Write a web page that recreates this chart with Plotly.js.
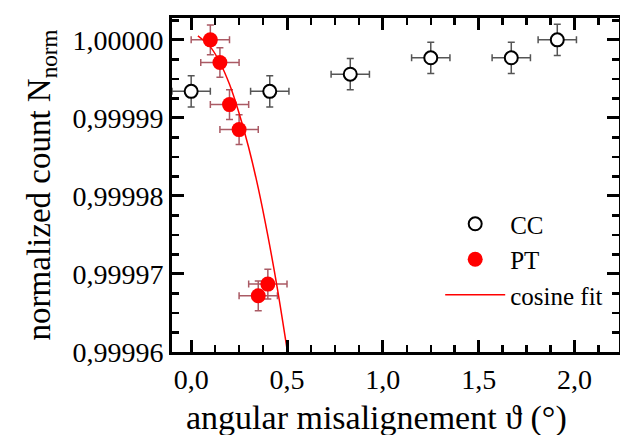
<!DOCTYPE html>
<html>
<head>
<meta charset="utf-8">
<script src="https://cdn.plot.ly/plotly-3.0.1.min.js"></script>
<style>html,body{margin:0;padding:0;background:#fff;}#chart{width:620px;height:435px;}</style>
</head>
<body>
<div id="chart"></div>
<script>
// CC data (open circles)
const ccX = [0.0, 0.41, 0.83, 1.25, 1.67, 1.91];
const ccY = [0.9999934, 0.9999934, 0.9999956, 0.9999977, 0.9999977, 1.0000000];
const ccXErr = [0.1, 0.1, 0.1, 0.1, 0.1, 0.1];
const ccYErr = [0.000002, 0.000002, 0.000002, 0.000002, 0.000002, 0.000002];

// PT data (red filled circles)
const ptX = [0.10, 0.15, 0.20, 0.25, 0.40, 0.35];
const ptY = [1.0000000, 0.9999971, 0.9999917, 0.9999885, 0.9999687, 0.9999672];
const ptXErr = [0.1, 0.1, 0.1, 0.1, 0.1, 0.1];
const ptYErr = [0.0000019, 0.0000019, 0.0000019, 0.0000019, 0.0000019, 0.0000019];

// cosine fit curve
const fitX = [0.035, 0.10, 0.15, 0.20, 0.25, 0.30, 0.35, 0.40, 0.45, 0.50];
const fitY = [1.0000005, 0.9999991, 0.9999971, 0.9999943, 0.9999906, 0.9999862, 0.9999810, 0.9999749, 0.9999681, 0.9999604];

// tick values and labels
const xTickVals = [0.0, 0.5, 1.0, 1.5, 2.0];
const xTickText = ['0,0', '0,5', '1,0', '1,5', '2,0'];
const yTickVals = [0.99996, 0.99997, 0.99998, 0.99999, 1.00000];
const yTickText = ['0,99996', '0,99997', '0,99998', '0,99999', '1,00000'];

// labels
const legendNames = ['CC', 'PT', 'cosine fit'];
const xTitle = 'angular misalignement \u03d1 (\u00b0)';
const yTitle = 'normalized count N<sub>norm</sub>';

const FONT = 'Liberation Serif';

const traces = [
  {
    x: ccX, y: ccY, type: 'scatter', mode: 'markers', name: legendNames[0],
    marker: {symbol: 'circle', size: 13, color: '#ffffff', line: {color: '#000000', width: 2}},
    error_x: {type: 'data', array: ccXErr, visible: true, color: '#555555', thickness: 1.5, width: 3.5},
    error_y: {type: 'data', array: ccYErr, visible: true, color: '#555555', thickness: 1.5, width: 3.5}
  },
  {
    x: ptX, y: ptY, type: 'scatter', mode: 'markers', name: legendNames[1],
    marker: {symbol: 'circle', size: 15, color: '#ff0000', line: {width: 0}},
    error_x: {type: 'data', array: ptXErr, visible: true, color: 'rgb(170,90,100)', thickness: 1.5, width: 3.5},
    error_y: {type: 'data', array: ptYErr, visible: true, color: 'rgb(170,90,100)', thickness: 1.5, width: 3.5}
  },
  {
    x: fitX, y: fitY, type: 'scatter', mode: 'lines', name: legendNames[2],
    line: {color: '#ff0000', width: 1.5, shape: 'spline'}
  }
];

const layout = {
  width: 620, height: 435,
  margin: {l: 172, r: 1, t: 18, b: 83},
  showlegend: true,
  legend: {
    x: 0.6, y: 0.452, xanchor: 'left', yanchor: 'top',
    bgcolor: 'rgba(0,0,0,0)', borderwidth: 0,
    font: {family: FONT, size: 25, color: '#000000'},
    itemwidth: 60, tracegroupgap: 0
  },
  xaxis: {
    range: [-0.1, 2.232],
    tickmode: 'array', tickvals: xTickVals, ticktext: xTickText,
    ticks: 'inside', ticklen: 12, tickwidth: 3, tickcolor: '#000000',
    minor: {ticks: 'inside', ticklen: 7, tickwidth: 2.5, tickcolor: '#000000', dtick: 0.125},
    showline: true, linewidth: 3, linecolor: '#000000', mirror: 'allticks',
    showgrid: false, zeroline: false,
    tickfont: {family: FONT, size: 28, color: '#000000'}
  },
  yaxis: {
    range: [0.99996, 1.0000028],
    tickmode: 'array', tickvals: yTickVals, ticktext: yTickText,
    ticks: 'inside', ticklen: 12, tickwidth: 3, tickcolor: '#000000',
    minor: {ticks: 'inside', ticklen: 7, tickwidth: 2.5, tickcolor: '#000000', dtick: 0.0000025, tick0: 0.99996},
    showline: true, linewidth: 3, linecolor: '#000000', mirror: 'allticks',
    showgrid: false, zeroline: false,
    tickfont: {family: FONT, size: 28, color: '#000000'},
    title: {text: yTitle, font: {family: FONT, size: 33, color: '#000000'}, standoff: 12}
  },
  annotations: [
    {
      text: xTitle, xref: 'paper', yref: 'paper', x: 0.457, y: -0.198,
      xanchor: 'center', yanchor: 'middle', showarrow: false,
      font: {family: FONT, size: 34, color: '#000000'}
    }
  ]
};

Plotly.newPlot('chart', traces, layout, {staticPlot: true});
</script>
</body>
</html>
